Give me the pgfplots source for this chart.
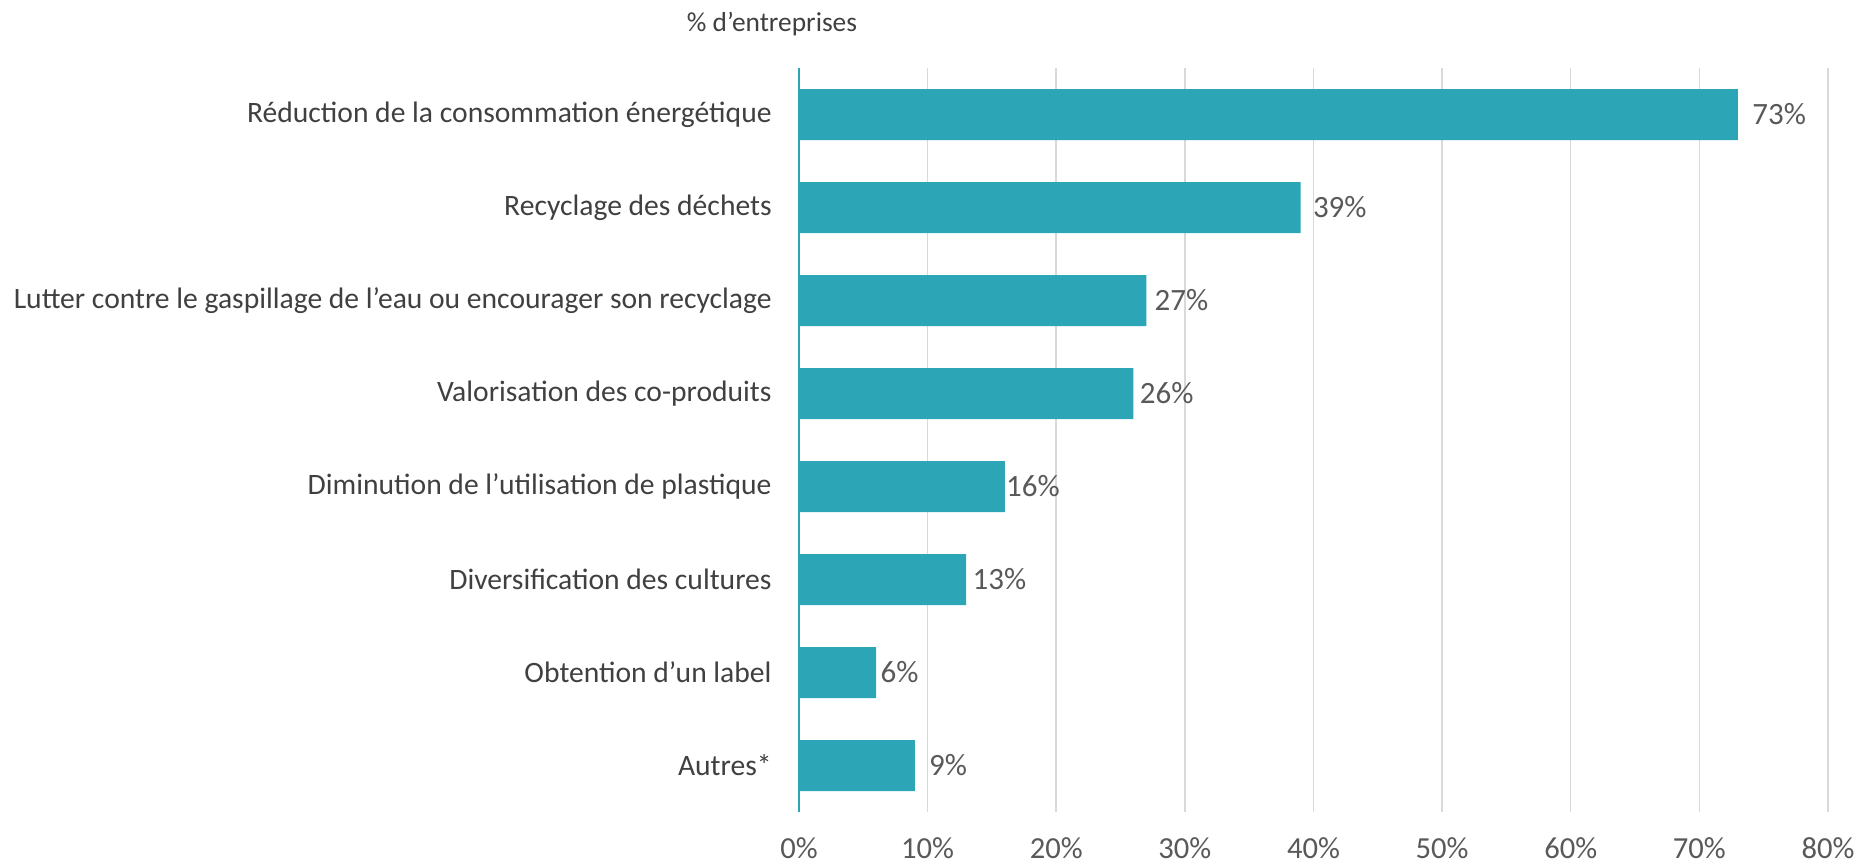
\documentclass[border=0pt]{standalone}
\usepackage{fontspec}
\setmainfont{Carlito}
\usepackage{pgfplots}
\usepackage{pgfplotstable}
\pgfplotsset{compat=1.18}
\definecolor{barteal}{HTML}{2CA5B7}
\definecolor{gridgray}{HTML}{D9D9D9}
\definecolor{labelgray}{HTML}{404040}
\definecolor{tickgray}{HTML}{595959}

% value, label offset (pt), category position
\pgfplotstableread{
pos value dx
0 73 7
1 39 6
2 27 4
3 26 3
4 16 0.5
5 13 3
6 6 2
7 9 7
}\actions

\begin{document}
\begin{tikzpicture}
\useasboundingbox (-399.5pt,-26pt) rectangle (528.5pt,406pt);
\begin{axis}[
    at={(0,0)}, anchor=south west,
    scale only axis,
    width=514.5pt, height=372pt,
    xbar, bar width=25.5pt,
    xmin=0, xmax=80, ymin=-0.5, ymax=7.5,
    y dir=reverse,
    ytick={0,...,7},
    yticklabels={
        Réduction de la consommation énergétique,
        Recyclage des déchets,
        Lutter contre le gaspillage de l’eau ou encourager son recyclage,
        Valorisation des co-produits,
        Diminution de l’utilisation de plastique,
        Diversification des cultures,
        Obtention d’un label,
        Autres*},
    xtick={0,10,...,80},
    xticklabel={\pgfmathprintnumber{\tick}\%},
    /pgf/number format/assume math mode=true,
    xmajorgrids,
    grid style={gridgray, line width=0.75pt},
    axis y line*=left, axis x line*=bottom,
    x axis line style={draw=none},
    y axis line style={barteal, line width=1pt},
    major tick length=0pt,
    yticklabel style={font=\fontsize{14.8}{17}\selectfont, text=labelgray,
        anchor=east, inner sep=0pt, xshift=-13.5pt},
    xticklabel style={font=\fontsize{15.3}{17}\selectfont, text=tickgray,
        anchor=center, inner sep=0pt, yshift=-18pt},
    point meta=x,
    visualization depends on={\thisrow{dx} \as \dx},
    nodes near coords={\pgfmathprintnumber{\pgfplotspointmeta}\%},
    nodes near coords style={font=\fontsize{15.5}{18}\selectfont, text=tickgray,
        anchor=west, inner sep=0pt, xshift=\dx pt},
]
\addplot[fill=barteal, draw=none] table[x=value, y=pos] {\actions};
\end{axis}
\node[font=\fontsize{13.7}{16}\selectfont, text=labelgray] at (-13.5pt,394pt) {\% d’entreprises};
\end{tikzpicture}
\end{document}
